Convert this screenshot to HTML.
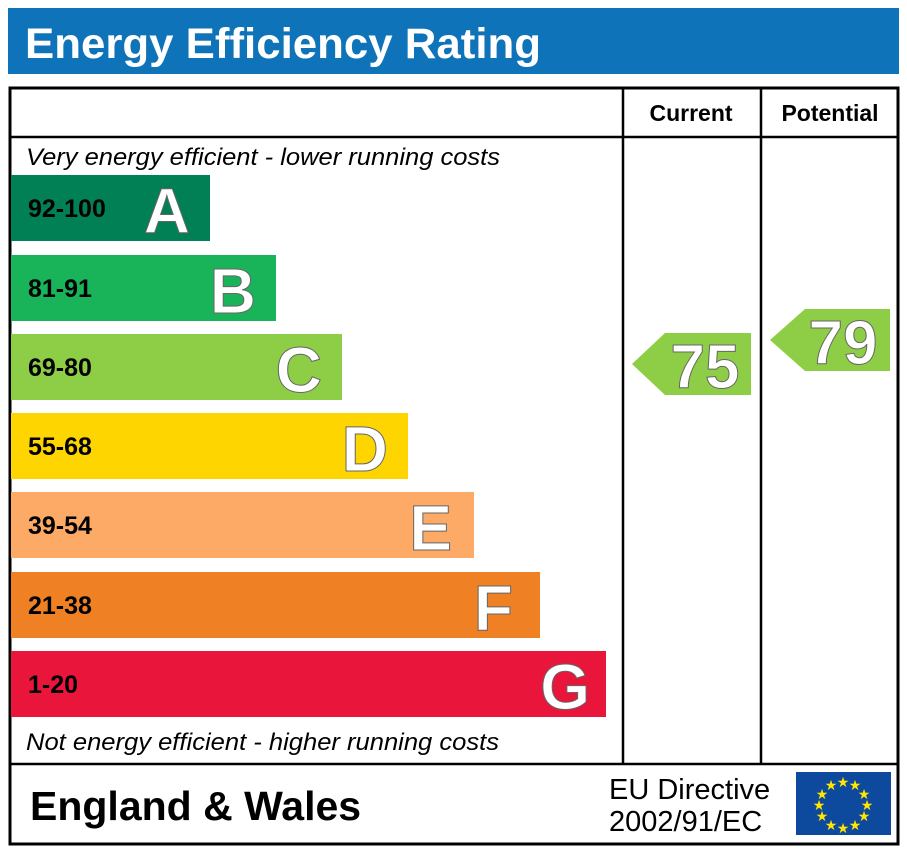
<!DOCTYPE html>
<html><head><style>body{margin:0;background:#fff}svg{display:block}</style></head><body>
<svg width="907" height="853" viewBox="0 0 907 853" xmlns="http://www.w3.org/2000/svg" font-family="Liberation Sans, Arial, sans-serif">
<rect x="8" y="8" width="891" height="66" fill="#0f73b9"/>
<text x="25" y="58" font-size="43" font-weight="bold" fill="#fff" textLength="516" lengthAdjust="spacingAndGlyphs">Energy Efficiency Rating</text>
<rect x="10" y="88" width="888" height="756" fill="none" stroke="#000" stroke-width="3"/>
<line x1="10" y1="137" x2="898" y2="137" stroke="#000" stroke-width="2.5"/>
<line x1="623" y1="88" x2="623" y2="764" stroke="#000" stroke-width="2.5"/>
<line x1="761" y1="88" x2="761" y2="764" stroke="#000" stroke-width="2.5"/>
<line x1="10" y1="764" x2="898" y2="764" stroke="#000" stroke-width="2.5"/>
<text x="691" y="121" font-size="23" font-weight="bold" text-anchor="middle">Current</text>
<text x="830" y="121" font-size="23" font-weight="bold" text-anchor="middle">Potential</text>
<text x="26" y="165" font-size="24" font-style="italic" textLength="474" lengthAdjust="spacingAndGlyphs">Very energy efficient - lower running costs</text>
<text x="26" y="750" font-size="24" font-style="italic" textLength="473" lengthAdjust="spacingAndGlyphs">Not energy efficient - higher running costs</text>
<g font-weight="bold">
<rect x="11" y="175" width="199" height="66" fill="#008054"/>
<text x="28" y="217" font-size="25">92-100</text>
<text x="190" y="233" font-size="64" fill="#fff" stroke="#666" stroke-width="1" text-anchor="end">A</text>
<rect x="11" y="255" width="265" height="66" fill="#19b459"/>
<text x="28" y="297" font-size="25">81-91</text>
<text x="256" y="313" font-size="64" fill="#fff" stroke="#666" stroke-width="1" text-anchor="end">B</text>
<rect x="11" y="334" width="331" height="66" fill="#8dce46"/>
<text x="28" y="376" font-size="25">69-80</text>
<text x="322" y="392" font-size="64" fill="#fff" stroke="#666" stroke-width="1" text-anchor="end">C</text>
<rect x="11" y="413" width="397" height="66" fill="#ffd500"/>
<text x="28" y="455" font-size="25">55-68</text>
<text x="388" y="471" font-size="64" fill="#fff" stroke="#666" stroke-width="1" text-anchor="end">D</text>
<rect x="11" y="492" width="463" height="66" fill="#fcaa65"/>
<text x="28" y="534" font-size="25">39-54</text>
<text x="452" y="550" font-size="64" fill="#fff" stroke="#666" stroke-width="1" text-anchor="end">E</text>
<rect x="11" y="572" width="529" height="66" fill="#ef8023"/>
<text x="28" y="614" font-size="25">21-38</text>
<text x="513" y="630" font-size="64" fill="#fff" stroke="#666" stroke-width="1" text-anchor="end">F</text>
<rect x="11" y="651" width="595" height="66" fill="#e9153b"/>
<text x="28" y="693" font-size="25">1-20</text>
<text x="590" y="709" font-size="64" fill="#fff" stroke="#666" stroke-width="1" text-anchor="end">G</text>
<polygon points="632,364 665,333 751,333 751,395 665,395" fill="#8dce46"/>
<text x="705" y="388" font-size="62" fill="#fff" stroke="#666" stroke-width="1" text-anchor="middle">75</text>
<polygon points="770,340 805,309 890,309 890,371 805,371" fill="#8dce46"/>
<text x="843" y="364" font-size="62" fill="#fff" stroke="#666" stroke-width="1" text-anchor="middle">79</text>
<text x="30" y="820" font-size="41">England &amp; Wales</text>
</g>
<text x="609" y="799" font-size="29">EU Directive</text>
<text x="609" y="831" font-size="29">2002/91/EC</text>
<rect x="796" y="772" width="95" height="63" fill="#0d4a9e"/>
<g fill="#ffe500" font-size="14" text-anchor="middle">
<text x="843" y="787">★</text><text x="855" y="790">★</text><text x="864" y="799">★</text><text x="867" y="810">★</text><text x="864" y="821">★</text><text x="855" y="830">★</text><text x="843" y="833">★</text><text x="831" y="830">★</text><text x="822" y="821">★</text><text x="819" y="810">★</text><text x="822" y="799">★</text><text x="831" y="790">★</text>
</g>
</svg>
</body></html>
